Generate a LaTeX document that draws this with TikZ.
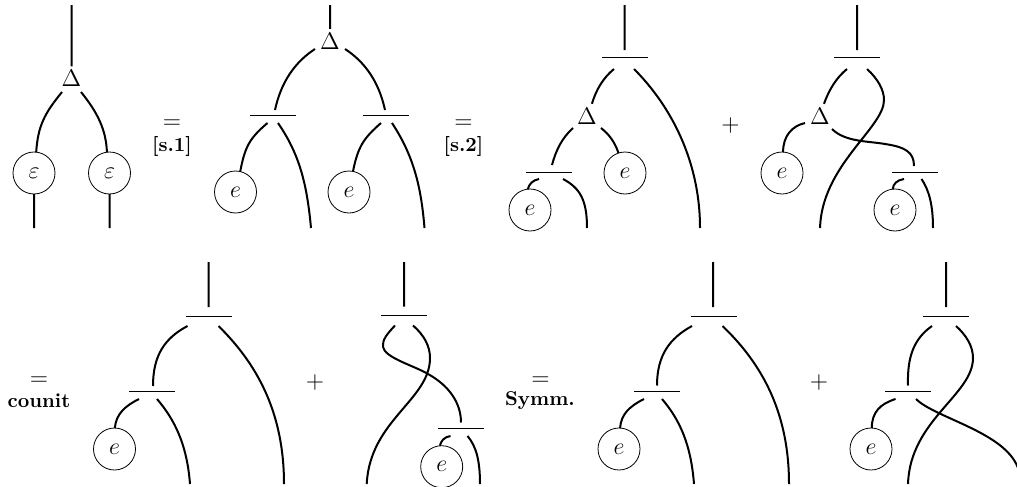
\documentclass[tikz,border=0pt]{standalone}
\usetikzlibrary{calc}
\def\hopfUnitSize{21pt}
\def\hopfBarWidth{23pt}
\tikzset{
  hopfWire/.style = {line width = 1pt},
  hopfUnit/.style = {draw, circle, thin, inner sep = 0pt, outer sep = 0pt, minimum size = \hopfUnitSize, font = \large},
  hopfBar/.style = {fill, inner sep = 0pt, outer sep = 0pt, minimum width = \hopfBarWidth, minimum height = 0.4pt},
  hopfDelta/.style = {inner sep = 2pt, outer sep = 0pt, font = \large},
  hopfSign/.style = {inner sep = 0pt, font = \large},
  hopfLabel/.style = {inner sep = 0pt, font = \normalsize\bfseries},
}
\begin{document}
\begin{tikzpicture}[x = 0.5pt, y = -0.5pt]
  \useasboundingbox (0,0) rectangle (1017,487);
  %% free ends
  \foreach \n/\x in {1/71.5, 2/330, 3/624.5, 4/857}
    \coordinate (t\n) at (\x,5);
  \foreach \n/\x in {5/208.5, 6/404, 7/713, 8/946}
    \coordinate (t\n) at (\x,262);
  \foreach \n/\x in {1/34, 2/109.5, 3/311, 4/424.5, 5/587, 6/700, 7/820, 8/933}
    \coordinate (f\n) at (\x,228);
  \foreach \n/\x in {9/190, 10/284, 11/366.7, 12/480, 13/694, 14/789, 15/908}
    \coordinate (f\n) at (\x,484);
  \coordinate (f16) at (1018,468);
  %% comultiplications
  \node [hopfDelta] (d1) at (71.5,78.5) {$\Delta$};
  \node [hopfDelta] (d2) at (330,41) {$\Delta$};
  \node [hopfDelta] (d3) at (587,116) {$\Delta$};
  \node [hopfDelta] (d4) at (820,116) {$\Delta$};
  %% bars
  \node [hopfBar] (bar1) at (273,115) {};
  \node [hopfBar] (bar2) at (386,115) {};
  \node [hopfBar] (bar3) at (625,57.5) {};
  \node [hopfBar] (bar4) at (549,172) {};
  \node [hopfBar] (bar5) at (857,57.5) {};
  \node [hopfBar] (bar6) at (914.5,172) {};
  \node [hopfBar] (bar7) at (208.5,316) {};
  \node [hopfBar] (bar8) at (152,391) {};
  \node [hopfBar] (bar9) at (404,315.5) {};
  \node [hopfBar] (bar10) at (460.5,428) {};
  \node [hopfBar] (bar11) at (713.5,316) {};
  \node [hopfBar] (bar12) at (656.5,391) {};
  \node [hopfBar] (bar13) at (946,316) {};
  \node [hopfBar] (bar14) at (908,391) {};
  %% units
  \node [hopfUnit] (eps1) at (34,173) {$\varepsilon$};
  \node [hopfUnit] (eps2) at (109.5,173) {$\varepsilon$};
  \node [hopfUnit] (u1) at (235.5,192) {$e$};
  \node [hopfUnit] (u2) at (349,192) {$e$};
  \node [hopfUnit] (u3) at (625,173) {$e$};
  \node [hopfUnit] (u4) at (530,210) {$e$};
  \node [hopfUnit] (u5) at (782,173) {$e$};
  \node [hopfUnit] (u6) at (895,210) {$e$};
  \node [hopfUnit] (u7) at (114.5,449) {$e$};
  \node [hopfUnit] (u8) at (441.7,466.7) {$e$};
  \node [hopfUnit] (u9) at (619,449) {$e$};
  \node [hopfUnit] (u10) at (871,449) {$e$};
  %% signs
  \node [hopfSign] (eq1) at (172,124) {$=$};
  \node [hopfLabel] (lab1) at (172,146.5) {[s.1]};
  \node [hopfSign] (eq2) at (463.5,124) {$=$};
  \node [hopfLabel] (lab2) at (463.5,146.5) {[s.2]};
  \node [hopfSign] (eq3) at (39,381) {$=$};
  \node [hopfLabel] (lab3) at (39,401) {counit};
  \node [hopfSign] (eq4) at (540.5,381) {$=$};
  \node [hopfLabel] (lab4) at (540,401) {Symm.};
  \node [hopfSign] (plus1) at (730.5,125) {$+$};
  \node [hopfSign] (plus2) at (315,382) {$+$};
  \node [hopfSign] (plus3) at (819,382) {$+$};
  %% first term
  \draw [hopfWire]
  (t1) -- (d1.north)
  (d1) ++(-9.5,13.5) .. controls (45,113) and (38,125) .. (eps1.84)
  (d1) ++(9.5,13.5) .. controls (98,113) and (106,130) .. (eps2.97)
  (eps1.south) -- (f1)
  (eps2.south) -- (f2)
  ;
  %% second term
  \draw [hopfWire]
  (t2) -- (d2.north)
  (d2) ++(-15,8) .. controls (295,62) and (281,82) .. ($(bar1)+(2,-5)$)
  (d2) ++(15,8) .. controls (365,62) and (379,82) .. ($(bar2)+(-1,-5)$)
  (bar1) ++(-5.5,8) .. controls (250,138) and (245,146) .. (u1.77)
  (bar1) ++(5,8) .. controls (300,155) and (307,185) .. (f3)
  (bar2) ++(-5,8) .. controls (364,138) and (358,146) .. (u2.79)
  (bar2) ++(6,8) .. controls (413,155) and (421,185) .. (f4)
  ;
  %% third term
  \draw [hopfWire]
  (bar3) ++(-0.5,-7.5) -- (t3)
  (bar3) ++(-11,11.5) .. controls (603,78) and (596,90) .. (d3.68)
  (bar3) ++(9,11.5) .. controls (670,105) and (700,160) .. (f6)
  (d3) ++(-14,12) .. controls (562,138) and (556,150) .. ($(bar4)+(3,-7)$)
  (d3) ++(14,12) .. controls (610,135) and (615,143) .. (u3.108)
  (bar4) ++(-10,7) .. controls (533,180) and (529,184) .. (u4.96)
  (bar4) ++(14,7) .. controls (580,188) and (587,200) .. (f5)
  ;
  %% fourth term
  \draw [hopfWire]
  (bar5) ++(0,-7.5) -- (t4)
  (bar5) ++(-10,11.5) .. controls (836,78) and (829,90) .. (d4.72)
  (bar5) ++(10,11.5) .. controls (878,79) and (884,90) .. (884,100)
  .. controls (884,128) and (822,165) .. (f7)
  (d4) ++(-15,7) .. controls (792,126) and (783,136) .. (u5.87)
  (d4) ++(12,13) .. controls (845,142) and (868,141) .. (885,144)
  .. controls (905,147) and (914,152) .. ($(bar6)+(-0.5,-6)$)
  (bar6) ++(-10.5,7) .. controls (897,180) and (893,184) .. (u6.96)
  (bar6) ++(7,7) .. controls (929,190) and (933,205) .. (f8)
  ;
  %% fifth term
  \draw [hopfWire]
  (bar7) ++(0,-9) -- (t5)
  (bar7) ++(-21,10) .. controls (165,338) and (153,355) .. ($(bar8)+(1,-5)$)
  (bar7) ++(10,10) .. controls (255,362) and (284,410) .. (f10)
  (bar8) ++(-13,8) .. controls (125,406) and (116,414) .. (u7.89)
  (bar8) ++(5,8) .. controls (175,420) and (187,445) .. (f9)
  ;
  %% sixth term
  \draw [hopfWire]
  (bar9) ++(0,-9) -- (t6)
  (bar9) ++(-9,10) .. controls (387,334) and (382,340) .. (383,347)
  .. controls (385,358) and (415,366) .. (428,374)
  .. controls (448,385) and (461,402) .. ($(bar10)+(0.5,-5.5)$)
  (bar9) ++(9,10) .. controls (424,335) and (430,346) .. (430,358)
  .. controls (430,400) and (370,420) .. (f11)
  (bar10) ++(-10,8) .. controls (444,437) and (441,441) .. (u8.95)
  (bar10) ++(7,8) .. controls (476,446) and (480,460) .. (f12)
  ;
  %% seventh term
  \draw [hopfWire]
  (bar11) ++(-0.5,-9) -- (t7)
  (bar11) ++(-21.5,10) .. controls (670,338) and (657,355) .. ($(bar12)+(0.5,-5.5)$)
  (bar11) ++(9,10) .. controls (760,362) and (789,410) .. (f14)
  (bar12) ++(-12.5,8) .. controls (630,406) and (621,414) .. (u9.87)
  (bar12) ++(5.5,8) .. controls (680,420) and (691,445) .. (f13)
  ;
  %% eighth term
  \draw [hopfWire]
  (bar13) ++(0,-9) -- (t8)
  (bar13) ++(-14,10) .. controls (915,338) and (907,355) .. ($(bar14)+(0,-5.5)$)
  (bar13) ++(10,10) .. controls (966,335) and (973,346) .. (973,358)
  .. controls (973,395) and (910,420) .. (f15)
  (bar14) ++(-12.5,8) .. controls (880,404) and (872,412) .. (u10.88)
  (bar14) ++(8,8) .. controls (935,418) and (1005,432) .. (f16)
  ;
\end{tikzpicture}
\end{document}
